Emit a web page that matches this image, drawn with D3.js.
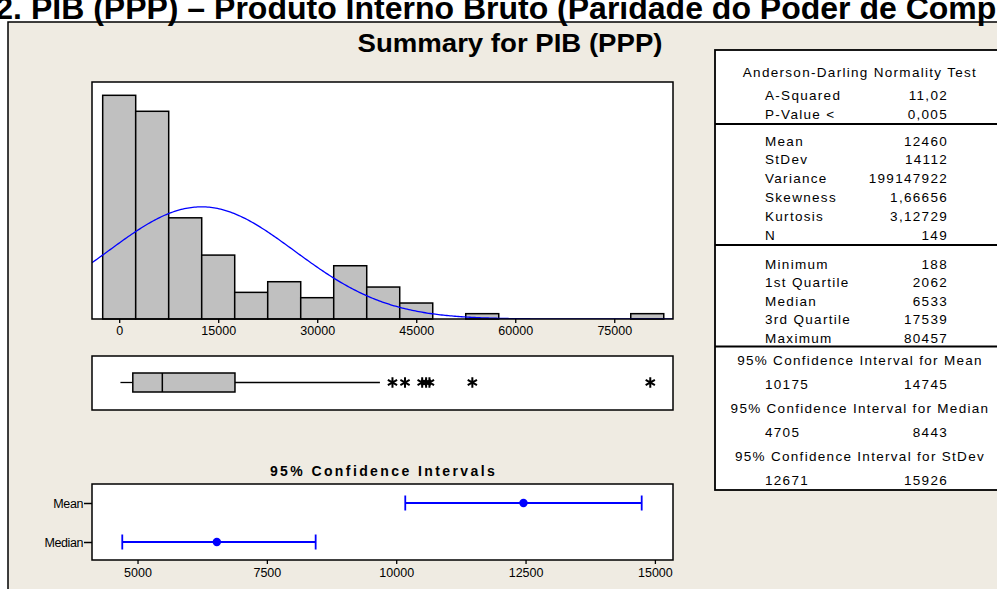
<!DOCTYPE html>
<html>
<head>
<meta charset="utf-8">
<script src="https://cdn.jsdelivr.net/npm/d3@7"></script>
<style>
  html, body { margin: 0; padding: 0; background: #fff; overflow: hidden; }
  svg { display: block; font-family: "Liberation Sans", Arial, sans-serif; }
</style>
</head>
<body>
<div id="chart"></div>
<script>
// ---------------- DATA ----------------
const binCenters = [0, 5000, 10000, 15000, 20000, 25000, 30000, 35000, 40000, 45000, 50000, 55000, 60000, 65000, 70000, 75000, 80000];
const binCounts  = [42, 39, 19, 12, 5, 7, 4, 10, 6, 3, 0, 1, 0, 0, 0, 0, 1];
const binWidth = 5000;
const histTicks = [0, 15000, 30000, 45000, 60000, 75000];

const mean = 12460, stdev = 14112, n = 149;
const boxStats = {min: 188, q1: 2062, median: 6533, q3: 17539, whiskerHigh: 39500};
const outliers = [41400, 43300, 45900, 46500, 47000, 53500, 80457];

const ciNames  = ["Mean", "Median"];
const ciCenter = [12460, 6533];
const ciLow    = [10175, 4705];
const ciHigh   = [14745, 8443];
const ciTicks  = [5000, 7500, 10000, 12500, 15000];

const adRows    = [["A-Squared", "11,02"], ["P-Value <", "0,005"]];
const momentRows = [["Mean", "12460"], ["StDev", "14112"], ["Variance", "199147922"],
                    ["Skewness", "1,66656"], ["Kurtosis", "3,12729"], ["N", "149"]];
const quantRows = [["Minimum", "188"], ["1st Quartile", "2062"], ["Median", "6533"],
                   ["3rd Quartile", "17539"], ["Maximum", "80457"]];
const ciRows = [["95% Confidence Interval for Mean", "10175", "14745"],
                ["95% Confidence Interval for Median", "4705", "8443"],
                ["95% Confidence Interval for StDev", "12671", "15926"]];

// ---------------- SETUP ----------------
const W = 997, H = 589;
const svg = d3.select("#chart").append("svg")
  .attr("width", W).attr("height", H);

const bg = "#efebe2";
svg.append("rect").attr("x", 8).attr("y", 22).attr("width", W + 10).attr("height", H)
  .attr("fill", bg).attr("stroke", "#000").attr("stroke-width", 1.5);

// page heading, cut at the top and right like the screenshot
const headSize = "32px";
const head = svg.append("text")
  .attr("y", 19)
  .style("font-size", headSize).style("font-weight", "bold")
  .text("2. PIB (PPP) – Produto Interno Bruto (Paridade do Poder de Compra)");
const pre = svg.append("text").style("font-size", headSize).style("font-weight", "bold").text("2. ");
const preW = pre.node().getComputedTextLength();
pre.remove();
head.attr("x", 22 - preW);

svg.append("text")
  .attr("x", 510).attr("y", 52)
  .attr("text-anchor", "middle")
  .attr("textLength", 305).attr("lengthAdjust", "spacingAndGlyphs")
  .style("font-size", "26px").style("font-weight", "bold")
  .text("Summary for PIB (PPP)");

// ---------------- HISTOGRAM ----------------
const left = 92, right = 673;
const x = d3.scaleLinear().domain([-4120, 83900]).range([left, right]);
const hTop = 82, hBot = 319;
const y = d3.scaleLinear().domain([0, 44.5]).range([hBot, hTop]);

svg.append("rect").attr("x", left).attr("y", hTop).attr("width", right - left).attr("height", hBot - hTop)
  .attr("fill", "#fff");

svg.append("clipPath").attr("id", "hclip")
  .append("rect").attr("x", left).attr("y", hTop).attr("width", right - left).attr("height", hBot - hTop);

const bins = binCenters.map((c, i) => ({c, n: binCounts[i]})).filter(d => d.n > 0);
svg.append("g").selectAll("rect")
  .data(bins)
  .enter()
  .append("rect")
  .attr("x", d => x(d.c - binWidth / 2))
  .attr("y", d => y(d.n))
  .attr("width", d => x(d.c + binWidth / 2) - x(d.c - binWidth / 2))
  .attr("height", d => y(0) - y(d.n))
  .attr("fill", "#c0c0c0")
  .attr("stroke", "#000")
  .attr("stroke-width", 1.5);

// fitted normal curve from the reported mean and stdev
const scaleN = n * binWidth / (stdev * Math.sqrt(2 * Math.PI));
const curveX = d3.range(-4120, 83900, 250);
svg.append("path")
  .attr("clip-path", "url(#hclip)")
  .attr("d", d3.line()
    .x(v => x(v))
    .y(v => y(scaleN * Math.exp(-0.5 * ((v - mean) / stdev) ** 2)))(curveX))
  .attr("fill", "none")
  .attr("stroke", "#0000ff")
  .attr("stroke-width", 1.3);

svg.append("rect").attr("x", left).attr("y", hTop).attr("width", right - left).attr("height", hBot - hTop)
  .attr("fill", "none").attr("stroke", "#000").attr("stroke-width", 1.5);

const hAxis = svg.append("g")
  .attr("transform", `translate(0,${hBot})`)
  .call(d3.axisBottom(x).tickValues(histTicks).tickSize(4).tickPadding(3).tickFormat(d3.format("d")));
hAxis.select(".domain").remove();
hAxis.selectAll("line").attr("stroke-width", 1.3);
hAxis.selectAll("text").style("font-size", "12.5px").attr("fill", "#000").style("font-family", "Liberation Sans, Arial");

// ---------------- BOXPLOT ----------------
const bTop = 356, bBot = 410;
svg.append("rect").attr("x", left).attr("y", bTop).attr("width", right - left).attr("height", bBot - bTop)
  .attr("fill", "#fff").attr("stroke", "#000").attr("stroke-width", 1.5);
const bMid = 382.5, bH = 19;
svg.append("line").attr("x1", x(boxStats.min)).attr("x2", x(boxStats.q1))
  .attr("y1", bMid).attr("y2", bMid).attr("stroke", "#000").attr("stroke-width", 1.3);
svg.append("line").attr("x1", x(boxStats.q3)).attr("x2", x(boxStats.whiskerHigh))
  .attr("y1", bMid).attr("y2", bMid).attr("stroke", "#000").attr("stroke-width", 1.3);
svg.append("rect").attr("x", x(boxStats.q1)).attr("y", bMid - bH / 2)
  .attr("width", x(boxStats.q3) - x(boxStats.q1)).attr("height", bH)
  .attr("fill", "#c0c0c0").attr("stroke", "#000").attr("stroke-width", 1.5);
svg.append("line").attr("x1", x(boxStats.median)).attr("x2", x(boxStats.median))
  .attr("y1", bMid - bH / 2).attr("y2", bMid + bH / 2).attr("stroke", "#000").attr("stroke-width", 1.5);
svg.append("g").selectAll("path")
  .data(outliers)
  .enter()
  .append("path")
  .attr("transform", d => `translate(${x(d)},${bMid})`)
  .attr("d", d3.symbol(d3.symbolAsterisk, 80))
  .attr("fill", "none")
  .attr("stroke", "#000")
  .attr("stroke-width", 2);

// ---------------- CONFIDENCE INTERVALS ----------------
svg.append("text")
  .attr("x", (left + right) / 2 + 1).attr("y", 476)
  .attr("text-anchor", "middle")
  .style("font-size", "14px").style("font-weight", "bold").style("letter-spacing", "2.4px")
  .text("95% Confidence Intervals");

const cTop = 484, cBot = 560;
const cx = d3.scaleLinear().domain([4120, 15350]).range([left, right]);
const cy = d3.scalePoint().domain(ciNames).range([503, 542]);

svg.append("rect").attr("x", left).attr("y", cTop).attr("width", right - left).attr("height", cBot - cTop)
  .attr("fill", "#fff").attr("stroke", "#000").attr("stroke-width", 1.5);

const cxAxis = svg.append("g")
  .attr("transform", `translate(0,${cBot})`)
  .call(d3.axisBottom(cx).tickValues(ciTicks).tickSize(4).tickPadding(4).tickFormat(d3.format("d")));
cxAxis.select(".domain").remove();
cxAxis.selectAll("line").attr("stroke-width", 1.3);
cxAxis.selectAll("text").style("font-size", "12.5px").attr("fill", "#000");

const cyAxis = svg.append("g")
  .attr("transform", `translate(${left},0)`)
  .call(d3.axisLeft(cy).tickSize(8).tickPadding(1));
cyAxis.select(".domain").remove();
cyAxis.selectAll("line").attr("stroke-width", 1.5);
cyAxis.selectAll("text").style("font-size", "12.5px").style("letter-spacing", "-0.4px").attr("fill", "#000");

const ci = ciNames.map((name, i) => ({name, c: ciCenter[i], lo: ciLow[i], hi: ciHigh[i]}));
const ciG = svg.append("g").selectAll("g").data(ci).enter().append("g")
  .attr("stroke", "#0000ff").attr("stroke-width", 1.8);
ciG.append("line").attr("x1", d => cx(d.lo)).attr("x2", d => cx(d.hi))
  .attr("y1", d => cy(d.name)).attr("y2", d => cy(d.name));
ciG.append("line").attr("x1", d => cx(d.lo)).attr("x2", d => cx(d.lo))
  .attr("y1", d => cy(d.name) - 7.5).attr("y2", d => cy(d.name) + 7.5);
ciG.append("line").attr("x1", d => cx(d.hi)).attr("x2", d => cx(d.hi))
  .attr("y1", d => cy(d.name) - 7.5).attr("y2", d => cy(d.name) + 7.5);
ciG.append("circle").attr("cx", d => cx(d.c)).attr("cy", d => cy(d.name)).attr("r", 4.2)
  .attr("fill", "#0000ff").attr("stroke", "none");

// ---------------- STATS TABLE ----------------
const tL = 715, tTop = 50, tBot = 490;
const labX = 765, valX = 948, midX = 860;
svg.append("rect").attr("x", tL).attr("y", tTop).attr("width", W - tL + 20).attr("height", tBot - tTop)
  .attr("fill", "#fff").attr("stroke", "#000").attr("stroke-width", 1.8);
[124, 245, 346.5].forEach(yy => {
  svg.append("line").attr("x1", tL).attr("x2", W).attr("y1", yy).attr("y2", yy)
    .attr("stroke", "#000").attr("stroke-width", 1.8);
});

const table = svg.append("g")
  .style("font-size", "13.5px").style("letter-spacing", "1.3px");

table.append("text").attr("x", midX).attr("y", 72).attr("text-anchor", "middle")
  .attr("dominant-baseline", "central").text("Anderson-Darling Normality Test");

function rows(data, y0, step) {
  data.forEach((r, i) => {
    table.append("text").attr("x", labX).attr("y", y0 + i * step)
      .attr("dominant-baseline", "central").text(r[0]);
    table.append("text").attr("x", valX).attr("y", y0 + i * step).attr("text-anchor", "end")
      .attr("dominant-baseline", "central").text(r[1]);
  });
}
rows(adRows, 95, 19);
rows(momentRows, 141, 18.8);
rows(quantRows, 264, 18.6);

ciRows.forEach((r, i) => {
  const y0 = 360 + i * 48;
  table.append("text").attr("x", midX).attr("y", y0).attr("text-anchor", "middle")
    .attr("dominant-baseline", "central").text(r[0]);
  table.append("text").attr("x", labX).attr("y", y0 + 24)
    .attr("dominant-baseline", "central").text(r[1]);
  table.append("text").attr("x", valX).attr("y", y0 + 24).attr("text-anchor", "end")
    .attr("dominant-baseline", "central").text(r[2]);
});
</script>
</body>
</html>
